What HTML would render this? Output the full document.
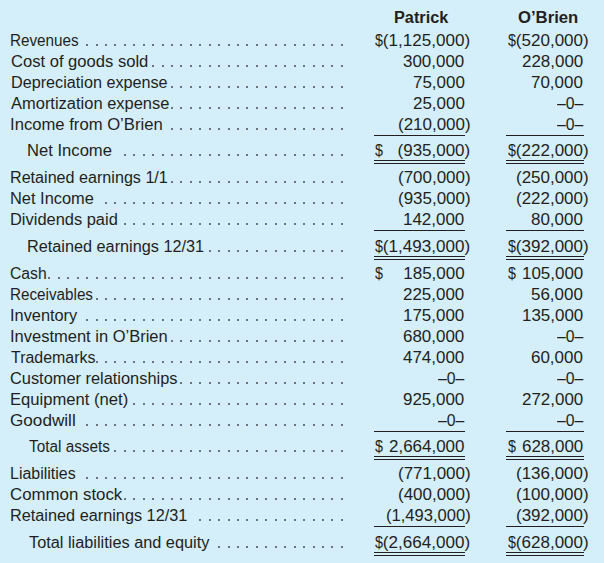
<!DOCTYPE html>
<html><head><meta charset="utf-8"><title>Patrick and O'Brien</title>
<style>
html,body{margin:0;padding:0;}
body{width:604px;height:563px;background:#d4eefa;position:relative;overflow:hidden;
font-family:"Liberation Sans",Arial,sans-serif;font-size:16px;color:#231f20;}
.t{position:absolute;line-height:20px;height:20px;white-space:pre;transform-origin:0 0;}
.h{font-weight:bold;}
.dl{display:inline-block;width:7.4px;transform:scaleX(.84);transform-origin:0 0;}
.d{position:absolute;width:2.0px;height:2.0px;background:#231f20;border-radius:50%;opacity:.78;}
.u{position:absolute;height:1px;background:#231f20;}
</style></head><body>

<div class="t h" style="left:393.80px;top:8.00px;transform:scaleX(1.0174)">Patrick</div>
<div class="t h" style="left:518.03px;top:8.00px;transform:scaleX(1.0425)">O’Brien</div>
<div class="t" style="left:10.46px;top:31.00px;transform:scaleX(0.9533)">Revenues</div>
<div class="t" style="left:375.01px;top:31.00px;transform:scaleX(1.0653)"><span class="dl">$</span>(1,125,000)</div>
<div class="t" style="left:507.81px;top:31.00px;transform:scaleX(1.0637)"><span class="dl">$</span>(520,000)</div>
<div class="t" style="left:10.58px;top:52.00px;transform:scaleX(1.0361)">Cost of goods sold</div>
<div class="t" style="left:403.00px;top:52.00px;transform:scaleX(1.0600)">300,000</div>
<div class="t" style="left:521.50px;top:52.00px;transform:scaleX(1.0600)">228,000</div>
<div class="t" style="left:10.53px;top:73.00px;transform:scaleX(1.0119)">Depreciation expense</div>
<div class="t" style="left:412.54px;top:73.00px;transform:scaleX(1.0600)">75,000</div>
<div class="t" style="left:531.04px;top:73.00px;transform:scaleX(1.0600)">70,000</div>
<div class="t" style="left:10.91px;top:94.00px;transform:scaleX(1.0297)">Amortization expense</div>
<div class="t" style="left:412.54px;top:94.00px;transform:scaleX(1.0600)">25,000</div>
<div class="t" style="left:557.20px;top:94.00px;transform:scaleX(0.9850)">–0–</div>
<div class="t" style="left:10.18px;top:115.00px;transform:scaleX(1.0405)">Income from O’Brien</div>
<div class="t" style="left:397.51px;top:115.00px;transform:scaleX(1.0600)">(210,000)</div>
<div class="t" style="left:557.20px;top:115.00px;transform:scaleX(0.9850)">–0–</div>
<div class="t" style="left:26.84px;top:141.00px;transform:scaleX(1.0383)">Net Income</div>
<div class="t" style="left:375.01px;top:141.00px;transform:scaleX(1.0600);word-spacing:9.44px"><span class="dl">$</span> (935,000)</div>
<div class="t" style="left:507.81px;top:141.00px;transform:scaleX(1.0637)"><span class="dl">$</span>(222,000)</div>
<div class="t" style="left:10.38px;top:168.00px;transform:scaleX(1.0081)">Retained earnings 1/1</div>
<div class="t" style="left:397.51px;top:168.00px;transform:scaleX(1.0600)">(700,000)</div>
<div class="t" style="left:515.71px;top:168.00px;transform:scaleX(1.0600)">(250,000)</div>
<div class="t" style="left:10.36px;top:189.00px;transform:scaleX(1.0258)">Net Income</div>
<div class="t" style="left:397.51px;top:189.00px;transform:scaleX(1.0600)">(935,000)</div>
<div class="t" style="left:515.71px;top:189.00px;transform:scaleX(1.0600)">(222,000)</div>
<div class="t" style="left:10.36px;top:210.00px;transform:scaleX(1.0270)">Dividends paid</div>
<div class="t" style="left:403.00px;top:210.00px;transform:scaleX(1.0600)">142,000</div>
<div class="t" style="left:531.04px;top:210.00px;transform:scaleX(1.0600)">80,000</div>
<div class="t" style="left:27.37px;top:237.00px;transform:scaleX(1.0155)">Retained earnings 12/31</div>
<div class="t" style="left:375.01px;top:237.00px;transform:scaleX(1.0653)"><span class="dl">$</span>(1,493,000)</div>
<div class="t" style="left:507.81px;top:237.00px;transform:scaleX(1.0637)"><span class="dl">$</span>(392,000)</div>
<div class="t" style="left:10.47px;top:264.00px;transform:scaleX(0.9815)">Cash</div>
<div class="t" style="left:375.01px;top:264.00px;transform:scaleX(1.0600);word-spacing:14.86px"><span class="dl">$</span> 185,000</div>
<div class="t" style="left:507.81px;top:264.00px;transform:scaleX(1.0600);word-spacing:1.37px"><span class="dl">$</span> 105,000</div>
<div class="t" style="left:10.46px;top:285.00px;transform:scaleX(0.9521)">Receivables</div>
<div class="t" style="left:403.00px;top:285.00px;transform:scaleX(1.0600)">225,000</div>
<div class="t" style="left:531.04px;top:285.00px;transform:scaleX(1.0600)">56,000</div>
<div class="t" style="left:10.46px;top:306.00px;transform:scaleX(1.0217)">Inventory</div>
<div class="t" style="left:403.00px;top:306.00px;transform:scaleX(1.0600)">175,000</div>
<div class="t" style="left:521.50px;top:306.00px;transform:scaleX(1.0600)">135,000</div>
<div class="t" style="left:10.45px;top:327.00px;transform:scaleX(1.0311)">Investment in O’Brien</div>
<div class="t" style="left:403.00px;top:327.00px;transform:scaleX(1.0600)">680,000</div>
<div class="t" style="left:557.20px;top:327.00px;transform:scaleX(0.9850)">–0–</div>
<div class="t" style="left:10.59px;top:348.00px;transform:scaleX(0.9956)">Trademarks</div>
<div class="t" style="left:403.00px;top:348.00px;transform:scaleX(1.0600)">474,000</div>
<div class="t" style="left:531.04px;top:348.00px;transform:scaleX(1.0600)">60,000</div>
<div class="t" style="left:10.44px;top:369.00px;transform:scaleX(1.0232)">Customer relationships</div>
<div class="t" style="left:438.10px;top:369.00px;transform:scaleX(0.9850)">–0–</div>
<div class="t" style="left:557.20px;top:369.00px;transform:scaleX(0.9850)">–0–</div>
<div class="t" style="left:10.34px;top:390.00px;transform:scaleX(1.0385)">Equipment (net)</div>
<div class="t" style="left:403.00px;top:390.00px;transform:scaleX(1.0600)">925,000</div>
<div class="t" style="left:521.50px;top:390.00px;transform:scaleX(1.0600)">272,000</div>
<div class="t" style="left:10.40px;top:411.00px;transform:scaleX(1.0707)">Goodwill</div>
<div class="t" style="left:438.10px;top:411.00px;transform:scaleX(0.9850)">–0–</div>
<div class="t" style="left:557.20px;top:411.00px;transform:scaleX(0.9850)">–0–</div>
<div class="t" style="left:29.11px;top:437.00px;transform:scaleX(0.9588)">Total assets</div>
<div class="t" style="left:375.01px;top:437.00px;transform:scaleX(1.0600);word-spacing:1.40px"><span class="dl">$</span> 2,664,000</div>
<div class="t" style="left:507.81px;top:437.00px;transform:scaleX(1.0600);word-spacing:1.37px"><span class="dl">$</span> 628,000</div>
<div class="t" style="left:10.40px;top:464.00px;transform:scaleX(0.9974)">Liabilities</div>
<div class="t" style="left:397.51px;top:464.00px;transform:scaleX(1.0600)">(771,000)</div>
<div class="t" style="left:515.71px;top:464.00px;transform:scaleX(1.0600)">(136,000)</div>
<div class="t" style="left:10.42px;top:485.00px;transform:scaleX(1.0524)">Common stock</div>
<div class="t" style="left:397.51px;top:485.00px;transform:scaleX(1.0600)">(400,000)</div>
<div class="t" style="left:515.71px;top:485.00px;transform:scaleX(1.0600)">(100,000)</div>
<div class="t" style="left:10.37px;top:506.00px;transform:scaleX(1.0169)">Retained earnings 12/31</div>
<div class="t" style="left:385.55px;top:506.00px;transform:scaleX(1.0350)">(1,493,000)</div>
<div class="t" style="left:515.71px;top:506.00px;transform:scaleX(1.0600)">(392,000)</div>
<div class="t" style="left:29.08px;top:533.00px;transform:scaleX(1.0191)">Total liabilities and equity</div>
<div class="t" style="left:375.01px;top:533.00px;transform:scaleX(1.0653)"><span class="dl">$</span>(2,664,000)</div>
<div class="t" style="left:507.81px;top:533.00px;transform:scaleX(1.0637)"><span class="dl">$</span>(628,000)</div>
<i class="d" style="left:86.11px;top:44.00px"></i>
<i class="d" style="left:95.54px;top:44.00px"></i>
<i class="d" style="left:104.98px;top:44.00px"></i>
<i class="d" style="left:114.41px;top:44.00px"></i>
<i class="d" style="left:123.84px;top:44.00px"></i>
<i class="d" style="left:133.27px;top:44.00px"></i>
<i class="d" style="left:142.71px;top:44.00px"></i>
<i class="d" style="left:152.14px;top:44.00px"></i>
<i class="d" style="left:161.57px;top:44.00px"></i>
<i class="d" style="left:171.01px;top:44.00px"></i>
<i class="d" style="left:180.44px;top:44.00px"></i>
<i class="d" style="left:189.87px;top:44.00px"></i>
<i class="d" style="left:199.31px;top:44.00px"></i>
<i class="d" style="left:208.74px;top:44.00px"></i>
<i class="d" style="left:218.17px;top:44.00px"></i>
<i class="d" style="left:227.60px;top:44.00px"></i>
<i class="d" style="left:237.04px;top:44.00px"></i>
<i class="d" style="left:246.47px;top:44.00px"></i>
<i class="d" style="left:255.90px;top:44.00px"></i>
<i class="d" style="left:265.34px;top:44.00px"></i>
<i class="d" style="left:274.77px;top:44.00px"></i>
<i class="d" style="left:284.20px;top:44.00px"></i>
<i class="d" style="left:293.63px;top:44.00px"></i>
<i class="d" style="left:303.07px;top:44.00px"></i>
<i class="d" style="left:312.50px;top:44.00px"></i>
<i class="d" style="left:321.93px;top:44.00px"></i>
<i class="d" style="left:331.37px;top:44.00px"></i>
<i class="d" style="left:340.80px;top:44.00px"></i>
<i class="d" style="left:152.14px;top:65.00px"></i>
<i class="d" style="left:161.57px;top:65.00px"></i>
<i class="d" style="left:171.01px;top:65.00px"></i>
<i class="d" style="left:180.44px;top:65.00px"></i>
<i class="d" style="left:189.87px;top:65.00px"></i>
<i class="d" style="left:199.31px;top:65.00px"></i>
<i class="d" style="left:208.74px;top:65.00px"></i>
<i class="d" style="left:218.17px;top:65.00px"></i>
<i class="d" style="left:227.60px;top:65.00px"></i>
<i class="d" style="left:237.04px;top:65.00px"></i>
<i class="d" style="left:246.47px;top:65.00px"></i>
<i class="d" style="left:255.90px;top:65.00px"></i>
<i class="d" style="left:265.34px;top:65.00px"></i>
<i class="d" style="left:274.77px;top:65.00px"></i>
<i class="d" style="left:284.20px;top:65.00px"></i>
<i class="d" style="left:293.63px;top:65.00px"></i>
<i class="d" style="left:303.07px;top:65.00px"></i>
<i class="d" style="left:312.50px;top:65.00px"></i>
<i class="d" style="left:321.93px;top:65.00px"></i>
<i class="d" style="left:331.37px;top:65.00px"></i>
<i class="d" style="left:340.80px;top:65.00px"></i>
<i class="d" style="left:171.01px;top:86.00px"></i>
<i class="d" style="left:180.44px;top:86.00px"></i>
<i class="d" style="left:189.87px;top:86.00px"></i>
<i class="d" style="left:199.31px;top:86.00px"></i>
<i class="d" style="left:208.74px;top:86.00px"></i>
<i class="d" style="left:218.17px;top:86.00px"></i>
<i class="d" style="left:227.60px;top:86.00px"></i>
<i class="d" style="left:237.04px;top:86.00px"></i>
<i class="d" style="left:246.47px;top:86.00px"></i>
<i class="d" style="left:255.90px;top:86.00px"></i>
<i class="d" style="left:265.34px;top:86.00px"></i>
<i class="d" style="left:274.77px;top:86.00px"></i>
<i class="d" style="left:284.20px;top:86.00px"></i>
<i class="d" style="left:293.63px;top:86.00px"></i>
<i class="d" style="left:303.07px;top:86.00px"></i>
<i class="d" style="left:312.50px;top:86.00px"></i>
<i class="d" style="left:321.93px;top:86.00px"></i>
<i class="d" style="left:331.37px;top:86.00px"></i>
<i class="d" style="left:340.80px;top:86.00px"></i>
<i class="d" style="left:171.01px;top:107.00px"></i>
<i class="d" style="left:180.44px;top:107.00px"></i>
<i class="d" style="left:189.87px;top:107.00px"></i>
<i class="d" style="left:199.31px;top:107.00px"></i>
<i class="d" style="left:208.74px;top:107.00px"></i>
<i class="d" style="left:218.17px;top:107.00px"></i>
<i class="d" style="left:227.60px;top:107.00px"></i>
<i class="d" style="left:237.04px;top:107.00px"></i>
<i class="d" style="left:246.47px;top:107.00px"></i>
<i class="d" style="left:255.90px;top:107.00px"></i>
<i class="d" style="left:265.34px;top:107.00px"></i>
<i class="d" style="left:274.77px;top:107.00px"></i>
<i class="d" style="left:284.20px;top:107.00px"></i>
<i class="d" style="left:293.63px;top:107.00px"></i>
<i class="d" style="left:303.07px;top:107.00px"></i>
<i class="d" style="left:312.50px;top:107.00px"></i>
<i class="d" style="left:321.93px;top:107.00px"></i>
<i class="d" style="left:331.37px;top:107.00px"></i>
<i class="d" style="left:340.80px;top:107.00px"></i>
<i class="d" style="left:171.01px;top:128.00px"></i>
<i class="d" style="left:180.44px;top:128.00px"></i>
<i class="d" style="left:189.87px;top:128.00px"></i>
<i class="d" style="left:199.31px;top:128.00px"></i>
<i class="d" style="left:208.74px;top:128.00px"></i>
<i class="d" style="left:218.17px;top:128.00px"></i>
<i class="d" style="left:227.60px;top:128.00px"></i>
<i class="d" style="left:237.04px;top:128.00px"></i>
<i class="d" style="left:246.47px;top:128.00px"></i>
<i class="d" style="left:255.90px;top:128.00px"></i>
<i class="d" style="left:265.34px;top:128.00px"></i>
<i class="d" style="left:274.77px;top:128.00px"></i>
<i class="d" style="left:284.20px;top:128.00px"></i>
<i class="d" style="left:293.63px;top:128.00px"></i>
<i class="d" style="left:303.07px;top:128.00px"></i>
<i class="d" style="left:312.50px;top:128.00px"></i>
<i class="d" style="left:321.93px;top:128.00px"></i>
<i class="d" style="left:331.37px;top:128.00px"></i>
<i class="d" style="left:340.80px;top:128.00px"></i>
<i class="d" style="left:123.84px;top:154.00px"></i>
<i class="d" style="left:133.27px;top:154.00px"></i>
<i class="d" style="left:142.71px;top:154.00px"></i>
<i class="d" style="left:152.14px;top:154.00px"></i>
<i class="d" style="left:161.57px;top:154.00px"></i>
<i class="d" style="left:171.01px;top:154.00px"></i>
<i class="d" style="left:180.44px;top:154.00px"></i>
<i class="d" style="left:189.87px;top:154.00px"></i>
<i class="d" style="left:199.31px;top:154.00px"></i>
<i class="d" style="left:208.74px;top:154.00px"></i>
<i class="d" style="left:218.17px;top:154.00px"></i>
<i class="d" style="left:227.60px;top:154.00px"></i>
<i class="d" style="left:237.04px;top:154.00px"></i>
<i class="d" style="left:246.47px;top:154.00px"></i>
<i class="d" style="left:255.90px;top:154.00px"></i>
<i class="d" style="left:265.34px;top:154.00px"></i>
<i class="d" style="left:274.77px;top:154.00px"></i>
<i class="d" style="left:284.20px;top:154.00px"></i>
<i class="d" style="left:293.63px;top:154.00px"></i>
<i class="d" style="left:303.07px;top:154.00px"></i>
<i class="d" style="left:312.50px;top:154.00px"></i>
<i class="d" style="left:321.93px;top:154.00px"></i>
<i class="d" style="left:331.37px;top:154.00px"></i>
<i class="d" style="left:340.80px;top:154.00px"></i>
<i class="d" style="left:171.01px;top:181.00px"></i>
<i class="d" style="left:180.44px;top:181.00px"></i>
<i class="d" style="left:189.87px;top:181.00px"></i>
<i class="d" style="left:199.31px;top:181.00px"></i>
<i class="d" style="left:208.74px;top:181.00px"></i>
<i class="d" style="left:218.17px;top:181.00px"></i>
<i class="d" style="left:227.60px;top:181.00px"></i>
<i class="d" style="left:237.04px;top:181.00px"></i>
<i class="d" style="left:246.47px;top:181.00px"></i>
<i class="d" style="left:255.90px;top:181.00px"></i>
<i class="d" style="left:265.34px;top:181.00px"></i>
<i class="d" style="left:274.77px;top:181.00px"></i>
<i class="d" style="left:284.20px;top:181.00px"></i>
<i class="d" style="left:293.63px;top:181.00px"></i>
<i class="d" style="left:303.07px;top:181.00px"></i>
<i class="d" style="left:312.50px;top:181.00px"></i>
<i class="d" style="left:321.93px;top:181.00px"></i>
<i class="d" style="left:331.37px;top:181.00px"></i>
<i class="d" style="left:340.80px;top:181.00px"></i>
<i class="d" style="left:104.98px;top:202.00px"></i>
<i class="d" style="left:114.41px;top:202.00px"></i>
<i class="d" style="left:123.84px;top:202.00px"></i>
<i class="d" style="left:133.27px;top:202.00px"></i>
<i class="d" style="left:142.71px;top:202.00px"></i>
<i class="d" style="left:152.14px;top:202.00px"></i>
<i class="d" style="left:161.57px;top:202.00px"></i>
<i class="d" style="left:171.01px;top:202.00px"></i>
<i class="d" style="left:180.44px;top:202.00px"></i>
<i class="d" style="left:189.87px;top:202.00px"></i>
<i class="d" style="left:199.31px;top:202.00px"></i>
<i class="d" style="left:208.74px;top:202.00px"></i>
<i class="d" style="left:218.17px;top:202.00px"></i>
<i class="d" style="left:227.60px;top:202.00px"></i>
<i class="d" style="left:237.04px;top:202.00px"></i>
<i class="d" style="left:246.47px;top:202.00px"></i>
<i class="d" style="left:255.90px;top:202.00px"></i>
<i class="d" style="left:265.34px;top:202.00px"></i>
<i class="d" style="left:274.77px;top:202.00px"></i>
<i class="d" style="left:284.20px;top:202.00px"></i>
<i class="d" style="left:293.63px;top:202.00px"></i>
<i class="d" style="left:303.07px;top:202.00px"></i>
<i class="d" style="left:312.50px;top:202.00px"></i>
<i class="d" style="left:321.93px;top:202.00px"></i>
<i class="d" style="left:331.37px;top:202.00px"></i>
<i class="d" style="left:340.80px;top:202.00px"></i>
<i class="d" style="left:123.84px;top:223.00px"></i>
<i class="d" style="left:133.27px;top:223.00px"></i>
<i class="d" style="left:142.71px;top:223.00px"></i>
<i class="d" style="left:152.14px;top:223.00px"></i>
<i class="d" style="left:161.57px;top:223.00px"></i>
<i class="d" style="left:171.01px;top:223.00px"></i>
<i class="d" style="left:180.44px;top:223.00px"></i>
<i class="d" style="left:189.87px;top:223.00px"></i>
<i class="d" style="left:199.31px;top:223.00px"></i>
<i class="d" style="left:208.74px;top:223.00px"></i>
<i class="d" style="left:218.17px;top:223.00px"></i>
<i class="d" style="left:227.60px;top:223.00px"></i>
<i class="d" style="left:237.04px;top:223.00px"></i>
<i class="d" style="left:246.47px;top:223.00px"></i>
<i class="d" style="left:255.90px;top:223.00px"></i>
<i class="d" style="left:265.34px;top:223.00px"></i>
<i class="d" style="left:274.77px;top:223.00px"></i>
<i class="d" style="left:284.20px;top:223.00px"></i>
<i class="d" style="left:293.63px;top:223.00px"></i>
<i class="d" style="left:303.07px;top:223.00px"></i>
<i class="d" style="left:312.50px;top:223.00px"></i>
<i class="d" style="left:321.93px;top:223.00px"></i>
<i class="d" style="left:331.37px;top:223.00px"></i>
<i class="d" style="left:340.80px;top:223.00px"></i>
<i class="d" style="left:208.74px;top:250.00px"></i>
<i class="d" style="left:218.17px;top:250.00px"></i>
<i class="d" style="left:227.60px;top:250.00px"></i>
<i class="d" style="left:237.04px;top:250.00px"></i>
<i class="d" style="left:246.47px;top:250.00px"></i>
<i class="d" style="left:255.90px;top:250.00px"></i>
<i class="d" style="left:265.34px;top:250.00px"></i>
<i class="d" style="left:274.77px;top:250.00px"></i>
<i class="d" style="left:284.20px;top:250.00px"></i>
<i class="d" style="left:293.63px;top:250.00px"></i>
<i class="d" style="left:303.07px;top:250.00px"></i>
<i class="d" style="left:312.50px;top:250.00px"></i>
<i class="d" style="left:321.93px;top:250.00px"></i>
<i class="d" style="left:331.37px;top:250.00px"></i>
<i class="d" style="left:340.80px;top:250.00px"></i>
<i class="d" style="left:48.38px;top:277.00px"></i>
<i class="d" style="left:57.81px;top:277.00px"></i>
<i class="d" style="left:67.24px;top:277.00px"></i>
<i class="d" style="left:76.68px;top:277.00px"></i>
<i class="d" style="left:86.11px;top:277.00px"></i>
<i class="d" style="left:95.54px;top:277.00px"></i>
<i class="d" style="left:104.98px;top:277.00px"></i>
<i class="d" style="left:114.41px;top:277.00px"></i>
<i class="d" style="left:123.84px;top:277.00px"></i>
<i class="d" style="left:133.27px;top:277.00px"></i>
<i class="d" style="left:142.71px;top:277.00px"></i>
<i class="d" style="left:152.14px;top:277.00px"></i>
<i class="d" style="left:161.57px;top:277.00px"></i>
<i class="d" style="left:171.01px;top:277.00px"></i>
<i class="d" style="left:180.44px;top:277.00px"></i>
<i class="d" style="left:189.87px;top:277.00px"></i>
<i class="d" style="left:199.31px;top:277.00px"></i>
<i class="d" style="left:208.74px;top:277.00px"></i>
<i class="d" style="left:218.17px;top:277.00px"></i>
<i class="d" style="left:227.60px;top:277.00px"></i>
<i class="d" style="left:237.04px;top:277.00px"></i>
<i class="d" style="left:246.47px;top:277.00px"></i>
<i class="d" style="left:255.90px;top:277.00px"></i>
<i class="d" style="left:265.34px;top:277.00px"></i>
<i class="d" style="left:274.77px;top:277.00px"></i>
<i class="d" style="left:284.20px;top:277.00px"></i>
<i class="d" style="left:293.63px;top:277.00px"></i>
<i class="d" style="left:303.07px;top:277.00px"></i>
<i class="d" style="left:312.50px;top:277.00px"></i>
<i class="d" style="left:321.93px;top:277.00px"></i>
<i class="d" style="left:331.37px;top:277.00px"></i>
<i class="d" style="left:340.80px;top:277.00px"></i>
<i class="d" style="left:95.54px;top:298.00px"></i>
<i class="d" style="left:104.98px;top:298.00px"></i>
<i class="d" style="left:114.41px;top:298.00px"></i>
<i class="d" style="left:123.84px;top:298.00px"></i>
<i class="d" style="left:133.27px;top:298.00px"></i>
<i class="d" style="left:142.71px;top:298.00px"></i>
<i class="d" style="left:152.14px;top:298.00px"></i>
<i class="d" style="left:161.57px;top:298.00px"></i>
<i class="d" style="left:171.01px;top:298.00px"></i>
<i class="d" style="left:180.44px;top:298.00px"></i>
<i class="d" style="left:189.87px;top:298.00px"></i>
<i class="d" style="left:199.31px;top:298.00px"></i>
<i class="d" style="left:208.74px;top:298.00px"></i>
<i class="d" style="left:218.17px;top:298.00px"></i>
<i class="d" style="left:227.60px;top:298.00px"></i>
<i class="d" style="left:237.04px;top:298.00px"></i>
<i class="d" style="left:246.47px;top:298.00px"></i>
<i class="d" style="left:255.90px;top:298.00px"></i>
<i class="d" style="left:265.34px;top:298.00px"></i>
<i class="d" style="left:274.77px;top:298.00px"></i>
<i class="d" style="left:284.20px;top:298.00px"></i>
<i class="d" style="left:293.63px;top:298.00px"></i>
<i class="d" style="left:303.07px;top:298.00px"></i>
<i class="d" style="left:312.50px;top:298.00px"></i>
<i class="d" style="left:321.93px;top:298.00px"></i>
<i class="d" style="left:331.37px;top:298.00px"></i>
<i class="d" style="left:340.80px;top:298.00px"></i>
<i class="d" style="left:86.11px;top:319.00px"></i>
<i class="d" style="left:95.54px;top:319.00px"></i>
<i class="d" style="left:104.98px;top:319.00px"></i>
<i class="d" style="left:114.41px;top:319.00px"></i>
<i class="d" style="left:123.84px;top:319.00px"></i>
<i class="d" style="left:133.27px;top:319.00px"></i>
<i class="d" style="left:142.71px;top:319.00px"></i>
<i class="d" style="left:152.14px;top:319.00px"></i>
<i class="d" style="left:161.57px;top:319.00px"></i>
<i class="d" style="left:171.01px;top:319.00px"></i>
<i class="d" style="left:180.44px;top:319.00px"></i>
<i class="d" style="left:189.87px;top:319.00px"></i>
<i class="d" style="left:199.31px;top:319.00px"></i>
<i class="d" style="left:208.74px;top:319.00px"></i>
<i class="d" style="left:218.17px;top:319.00px"></i>
<i class="d" style="left:227.60px;top:319.00px"></i>
<i class="d" style="left:237.04px;top:319.00px"></i>
<i class="d" style="left:246.47px;top:319.00px"></i>
<i class="d" style="left:255.90px;top:319.00px"></i>
<i class="d" style="left:265.34px;top:319.00px"></i>
<i class="d" style="left:274.77px;top:319.00px"></i>
<i class="d" style="left:284.20px;top:319.00px"></i>
<i class="d" style="left:293.63px;top:319.00px"></i>
<i class="d" style="left:303.07px;top:319.00px"></i>
<i class="d" style="left:312.50px;top:319.00px"></i>
<i class="d" style="left:321.93px;top:319.00px"></i>
<i class="d" style="left:331.37px;top:319.00px"></i>
<i class="d" style="left:340.80px;top:319.00px"></i>
<i class="d" style="left:171.01px;top:340.00px"></i>
<i class="d" style="left:180.44px;top:340.00px"></i>
<i class="d" style="left:189.87px;top:340.00px"></i>
<i class="d" style="left:199.31px;top:340.00px"></i>
<i class="d" style="left:208.74px;top:340.00px"></i>
<i class="d" style="left:218.17px;top:340.00px"></i>
<i class="d" style="left:227.60px;top:340.00px"></i>
<i class="d" style="left:237.04px;top:340.00px"></i>
<i class="d" style="left:246.47px;top:340.00px"></i>
<i class="d" style="left:255.90px;top:340.00px"></i>
<i class="d" style="left:265.34px;top:340.00px"></i>
<i class="d" style="left:274.77px;top:340.00px"></i>
<i class="d" style="left:284.20px;top:340.00px"></i>
<i class="d" style="left:293.63px;top:340.00px"></i>
<i class="d" style="left:303.07px;top:340.00px"></i>
<i class="d" style="left:312.50px;top:340.00px"></i>
<i class="d" style="left:321.93px;top:340.00px"></i>
<i class="d" style="left:331.37px;top:340.00px"></i>
<i class="d" style="left:340.80px;top:340.00px"></i>
<i class="d" style="left:95.54px;top:361.00px"></i>
<i class="d" style="left:104.98px;top:361.00px"></i>
<i class="d" style="left:114.41px;top:361.00px"></i>
<i class="d" style="left:123.84px;top:361.00px"></i>
<i class="d" style="left:133.27px;top:361.00px"></i>
<i class="d" style="left:142.71px;top:361.00px"></i>
<i class="d" style="left:152.14px;top:361.00px"></i>
<i class="d" style="left:161.57px;top:361.00px"></i>
<i class="d" style="left:171.01px;top:361.00px"></i>
<i class="d" style="left:180.44px;top:361.00px"></i>
<i class="d" style="left:189.87px;top:361.00px"></i>
<i class="d" style="left:199.31px;top:361.00px"></i>
<i class="d" style="left:208.74px;top:361.00px"></i>
<i class="d" style="left:218.17px;top:361.00px"></i>
<i class="d" style="left:227.60px;top:361.00px"></i>
<i class="d" style="left:237.04px;top:361.00px"></i>
<i class="d" style="left:246.47px;top:361.00px"></i>
<i class="d" style="left:255.90px;top:361.00px"></i>
<i class="d" style="left:265.34px;top:361.00px"></i>
<i class="d" style="left:274.77px;top:361.00px"></i>
<i class="d" style="left:284.20px;top:361.00px"></i>
<i class="d" style="left:293.63px;top:361.00px"></i>
<i class="d" style="left:303.07px;top:361.00px"></i>
<i class="d" style="left:312.50px;top:361.00px"></i>
<i class="d" style="left:321.93px;top:361.00px"></i>
<i class="d" style="left:331.37px;top:361.00px"></i>
<i class="d" style="left:340.80px;top:361.00px"></i>
<i class="d" style="left:180.44px;top:382.00px"></i>
<i class="d" style="left:189.87px;top:382.00px"></i>
<i class="d" style="left:199.31px;top:382.00px"></i>
<i class="d" style="left:208.74px;top:382.00px"></i>
<i class="d" style="left:218.17px;top:382.00px"></i>
<i class="d" style="left:227.60px;top:382.00px"></i>
<i class="d" style="left:237.04px;top:382.00px"></i>
<i class="d" style="left:246.47px;top:382.00px"></i>
<i class="d" style="left:255.90px;top:382.00px"></i>
<i class="d" style="left:265.34px;top:382.00px"></i>
<i class="d" style="left:274.77px;top:382.00px"></i>
<i class="d" style="left:284.20px;top:382.00px"></i>
<i class="d" style="left:293.63px;top:382.00px"></i>
<i class="d" style="left:303.07px;top:382.00px"></i>
<i class="d" style="left:312.50px;top:382.00px"></i>
<i class="d" style="left:321.93px;top:382.00px"></i>
<i class="d" style="left:331.37px;top:382.00px"></i>
<i class="d" style="left:340.80px;top:382.00px"></i>
<i class="d" style="left:133.27px;top:403.00px"></i>
<i class="d" style="left:142.71px;top:403.00px"></i>
<i class="d" style="left:152.14px;top:403.00px"></i>
<i class="d" style="left:161.57px;top:403.00px"></i>
<i class="d" style="left:171.01px;top:403.00px"></i>
<i class="d" style="left:180.44px;top:403.00px"></i>
<i class="d" style="left:189.87px;top:403.00px"></i>
<i class="d" style="left:199.31px;top:403.00px"></i>
<i class="d" style="left:208.74px;top:403.00px"></i>
<i class="d" style="left:218.17px;top:403.00px"></i>
<i class="d" style="left:227.60px;top:403.00px"></i>
<i class="d" style="left:237.04px;top:403.00px"></i>
<i class="d" style="left:246.47px;top:403.00px"></i>
<i class="d" style="left:255.90px;top:403.00px"></i>
<i class="d" style="left:265.34px;top:403.00px"></i>
<i class="d" style="left:274.77px;top:403.00px"></i>
<i class="d" style="left:284.20px;top:403.00px"></i>
<i class="d" style="left:293.63px;top:403.00px"></i>
<i class="d" style="left:303.07px;top:403.00px"></i>
<i class="d" style="left:312.50px;top:403.00px"></i>
<i class="d" style="left:321.93px;top:403.00px"></i>
<i class="d" style="left:331.37px;top:403.00px"></i>
<i class="d" style="left:340.80px;top:403.00px"></i>
<i class="d" style="left:86.11px;top:424.00px"></i>
<i class="d" style="left:95.54px;top:424.00px"></i>
<i class="d" style="left:104.98px;top:424.00px"></i>
<i class="d" style="left:114.41px;top:424.00px"></i>
<i class="d" style="left:123.84px;top:424.00px"></i>
<i class="d" style="left:133.27px;top:424.00px"></i>
<i class="d" style="left:142.71px;top:424.00px"></i>
<i class="d" style="left:152.14px;top:424.00px"></i>
<i class="d" style="left:161.57px;top:424.00px"></i>
<i class="d" style="left:171.01px;top:424.00px"></i>
<i class="d" style="left:180.44px;top:424.00px"></i>
<i class="d" style="left:189.87px;top:424.00px"></i>
<i class="d" style="left:199.31px;top:424.00px"></i>
<i class="d" style="left:208.74px;top:424.00px"></i>
<i class="d" style="left:218.17px;top:424.00px"></i>
<i class="d" style="left:227.60px;top:424.00px"></i>
<i class="d" style="left:237.04px;top:424.00px"></i>
<i class="d" style="left:246.47px;top:424.00px"></i>
<i class="d" style="left:255.90px;top:424.00px"></i>
<i class="d" style="left:265.34px;top:424.00px"></i>
<i class="d" style="left:274.77px;top:424.00px"></i>
<i class="d" style="left:284.20px;top:424.00px"></i>
<i class="d" style="left:293.63px;top:424.00px"></i>
<i class="d" style="left:303.07px;top:424.00px"></i>
<i class="d" style="left:312.50px;top:424.00px"></i>
<i class="d" style="left:321.93px;top:424.00px"></i>
<i class="d" style="left:331.37px;top:424.00px"></i>
<i class="d" style="left:340.80px;top:424.00px"></i>
<i class="d" style="left:114.41px;top:450.00px"></i>
<i class="d" style="left:123.84px;top:450.00px"></i>
<i class="d" style="left:133.27px;top:450.00px"></i>
<i class="d" style="left:142.71px;top:450.00px"></i>
<i class="d" style="left:152.14px;top:450.00px"></i>
<i class="d" style="left:161.57px;top:450.00px"></i>
<i class="d" style="left:171.01px;top:450.00px"></i>
<i class="d" style="left:180.44px;top:450.00px"></i>
<i class="d" style="left:189.87px;top:450.00px"></i>
<i class="d" style="left:199.31px;top:450.00px"></i>
<i class="d" style="left:208.74px;top:450.00px"></i>
<i class="d" style="left:218.17px;top:450.00px"></i>
<i class="d" style="left:227.60px;top:450.00px"></i>
<i class="d" style="left:237.04px;top:450.00px"></i>
<i class="d" style="left:246.47px;top:450.00px"></i>
<i class="d" style="left:255.90px;top:450.00px"></i>
<i class="d" style="left:265.34px;top:450.00px"></i>
<i class="d" style="left:274.77px;top:450.00px"></i>
<i class="d" style="left:284.20px;top:450.00px"></i>
<i class="d" style="left:293.63px;top:450.00px"></i>
<i class="d" style="left:303.07px;top:450.00px"></i>
<i class="d" style="left:312.50px;top:450.00px"></i>
<i class="d" style="left:321.93px;top:450.00px"></i>
<i class="d" style="left:331.37px;top:450.00px"></i>
<i class="d" style="left:340.80px;top:450.00px"></i>
<i class="d" style="left:86.11px;top:477.00px"></i>
<i class="d" style="left:95.54px;top:477.00px"></i>
<i class="d" style="left:104.98px;top:477.00px"></i>
<i class="d" style="left:114.41px;top:477.00px"></i>
<i class="d" style="left:123.84px;top:477.00px"></i>
<i class="d" style="left:133.27px;top:477.00px"></i>
<i class="d" style="left:142.71px;top:477.00px"></i>
<i class="d" style="left:152.14px;top:477.00px"></i>
<i class="d" style="left:161.57px;top:477.00px"></i>
<i class="d" style="left:171.01px;top:477.00px"></i>
<i class="d" style="left:180.44px;top:477.00px"></i>
<i class="d" style="left:189.87px;top:477.00px"></i>
<i class="d" style="left:199.31px;top:477.00px"></i>
<i class="d" style="left:208.74px;top:477.00px"></i>
<i class="d" style="left:218.17px;top:477.00px"></i>
<i class="d" style="left:227.60px;top:477.00px"></i>
<i class="d" style="left:237.04px;top:477.00px"></i>
<i class="d" style="left:246.47px;top:477.00px"></i>
<i class="d" style="left:255.90px;top:477.00px"></i>
<i class="d" style="left:265.34px;top:477.00px"></i>
<i class="d" style="left:274.77px;top:477.00px"></i>
<i class="d" style="left:284.20px;top:477.00px"></i>
<i class="d" style="left:293.63px;top:477.00px"></i>
<i class="d" style="left:303.07px;top:477.00px"></i>
<i class="d" style="left:312.50px;top:477.00px"></i>
<i class="d" style="left:321.93px;top:477.00px"></i>
<i class="d" style="left:331.37px;top:477.00px"></i>
<i class="d" style="left:340.80px;top:477.00px"></i>
<i class="d" style="left:123.84px;top:498.00px"></i>
<i class="d" style="left:133.27px;top:498.00px"></i>
<i class="d" style="left:142.71px;top:498.00px"></i>
<i class="d" style="left:152.14px;top:498.00px"></i>
<i class="d" style="left:161.57px;top:498.00px"></i>
<i class="d" style="left:171.01px;top:498.00px"></i>
<i class="d" style="left:180.44px;top:498.00px"></i>
<i class="d" style="left:189.87px;top:498.00px"></i>
<i class="d" style="left:199.31px;top:498.00px"></i>
<i class="d" style="left:208.74px;top:498.00px"></i>
<i class="d" style="left:218.17px;top:498.00px"></i>
<i class="d" style="left:227.60px;top:498.00px"></i>
<i class="d" style="left:237.04px;top:498.00px"></i>
<i class="d" style="left:246.47px;top:498.00px"></i>
<i class="d" style="left:255.90px;top:498.00px"></i>
<i class="d" style="left:265.34px;top:498.00px"></i>
<i class="d" style="left:274.77px;top:498.00px"></i>
<i class="d" style="left:284.20px;top:498.00px"></i>
<i class="d" style="left:293.63px;top:498.00px"></i>
<i class="d" style="left:303.07px;top:498.00px"></i>
<i class="d" style="left:312.50px;top:498.00px"></i>
<i class="d" style="left:321.93px;top:498.00px"></i>
<i class="d" style="left:331.37px;top:498.00px"></i>
<i class="d" style="left:340.80px;top:498.00px"></i>
<i class="d" style="left:199.31px;top:519.00px"></i>
<i class="d" style="left:208.74px;top:519.00px"></i>
<i class="d" style="left:218.17px;top:519.00px"></i>
<i class="d" style="left:227.60px;top:519.00px"></i>
<i class="d" style="left:237.04px;top:519.00px"></i>
<i class="d" style="left:246.47px;top:519.00px"></i>
<i class="d" style="left:255.90px;top:519.00px"></i>
<i class="d" style="left:265.34px;top:519.00px"></i>
<i class="d" style="left:274.77px;top:519.00px"></i>
<i class="d" style="left:284.20px;top:519.00px"></i>
<i class="d" style="left:293.63px;top:519.00px"></i>
<i class="d" style="left:303.07px;top:519.00px"></i>
<i class="d" style="left:312.50px;top:519.00px"></i>
<i class="d" style="left:321.93px;top:519.00px"></i>
<i class="d" style="left:331.37px;top:519.00px"></i>
<i class="d" style="left:340.80px;top:519.00px"></i>
<i class="d" style="left:218.17px;top:546.00px"></i>
<i class="d" style="left:227.60px;top:546.00px"></i>
<i class="d" style="left:237.04px;top:546.00px"></i>
<i class="d" style="left:246.47px;top:546.00px"></i>
<i class="d" style="left:255.90px;top:546.00px"></i>
<i class="d" style="left:265.34px;top:546.00px"></i>
<i class="d" style="left:274.77px;top:546.00px"></i>
<i class="d" style="left:284.20px;top:546.00px"></i>
<i class="d" style="left:293.63px;top:546.00px"></i>
<i class="d" style="left:303.07px;top:546.00px"></i>
<i class="d" style="left:312.50px;top:546.00px"></i>
<i class="d" style="left:321.93px;top:546.00px"></i>
<i class="d" style="left:331.37px;top:546.00px"></i>
<i class="d" style="left:340.80px;top:546.00px"></i>
<div class="u" style="left:374px;width:91px;top:135px"></div>
<div class="u" style="left:506px;width:78px;top:135px"></div>
<div class="u" style="left:374px;width:91px;top:230px"></div>
<div class="u" style="left:506px;width:78px;top:230px"></div>
<div class="u" style="left:374px;width:91px;top:431px"></div>
<div class="u" style="left:506px;width:78px;top:431px"></div>
<div class="u" style="left:374px;width:91px;top:526px"></div>
<div class="u" style="left:506px;width:78px;top:526px"></div>
<div class="u" style="left:374px;width:91px;top:160px"></div>
<div class="u" style="left:374px;width:91px;top:163px"></div>
<div class="u" style="left:506px;width:78px;top:160px"></div>
<div class="u" style="left:506px;width:78px;top:163px"></div>
<div class="u" style="left:374px;width:91px;top:256px"></div>
<div class="u" style="left:374px;width:91px;top:259px"></div>
<div class="u" style="left:506px;width:78px;top:256px"></div>
<div class="u" style="left:506px;width:78px;top:259px"></div>
<div class="u" style="left:374px;width:91px;top:456px"></div>
<div class="u" style="left:374px;width:91px;top:459px"></div>
<div class="u" style="left:506px;width:78px;top:456px"></div>
<div class="u" style="left:506px;width:78px;top:459px"></div>
<div class="u" style="left:374px;width:91px;top:552px"></div>
<div class="u" style="left:374px;width:91px;top:555px"></div>
<div class="u" style="left:506px;width:78px;top:552px"></div>
<div class="u" style="left:506px;width:78px;top:555px"></div>
</body></html>
